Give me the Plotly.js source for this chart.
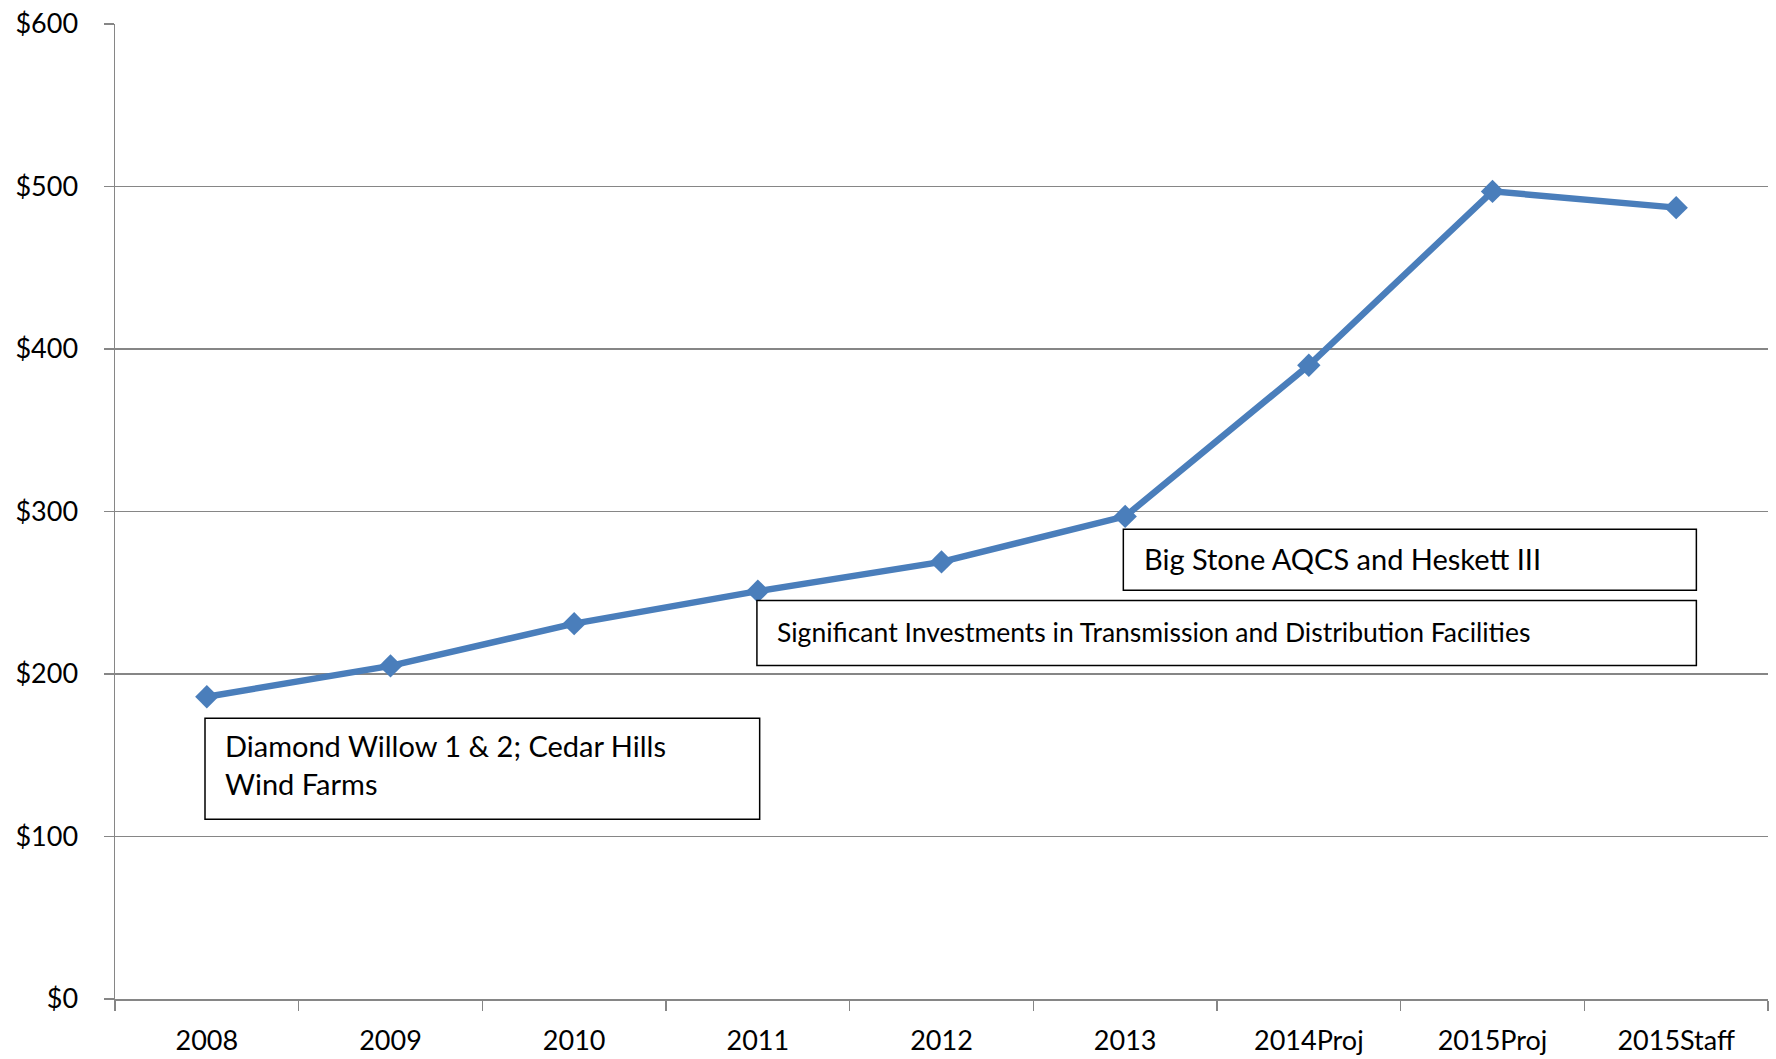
<!DOCTYPE html>
<html>
<head>
<meta charset="utf-8">
<script src="https://cdn.plot.ly/plotly-3.0.1.min.js"></script>
<style>html,body{margin:0;padding:0;background:#fff;}#chart{width:1776px;height:1059px;}</style>
</head>
<body>
<div id="chart"></div>
<script>
const categories = ["2008","2009","2010","2011","2012","2013","2014Proj","2015Proj","2015Staff"];
const values = [186, 205, 231, 251, 269, 297, 390, 497, 487];
const yTickVals = [0, 100, 200, 300, 400, 500, 600];
const yTickText = ["$0","$100","$200","$300","$400","$500","$600"];
const notes = [
  {text: "Diamond Willow 1 &amp; 2; Cedar Hills<br>Wind Farms", x0: -0.01, x1: 3.01, y0: 110.6, y1: 172.7, size: 29, shift: 4},
  {text: "Significant Investments in Transmission and Distribution Facilities", x0: 2.995, x1: 8.11, y0: 205.3, y1: 245.3, size: 26.5, shift: 1},
  {text: "Big Stone AQCS and Heskett III", x0: 4.99, x1: 8.11, y0: 251.6, y1: 289.1, size: 29, shift: 1}
];

const font = "Lato, 'Open Sans', sans-serif";
const gray = "#868686";

const shapes = notes.map(n => ({
  type: "rect", xref: "x", yref: "y", x0: n.x0, x1: n.x1, y0: n.y0, y1: n.y1,
  line: {color: "#000", width: 1.5}, fillcolor: "#fff", layer: "above"
}));
const annotations = notes.map(n => ({
  xref: "x", yref: "y", x: n.x0 + 0.1, y: (n.y0 + n.y1) / 2, yshift: n.shift,
  xanchor: "left", yanchor: "middle", align: "left", showarrow: false,
  text: n.text, font: {family: font, size: n.size, color: "#000"}
}));

const trace = {
  x: categories, y: values, type: "scatter", mode: "lines+markers",
  line: {color: "#4A7EBB", width: 6.5},
  marker: {symbol: "diamond", size: 18, color: "#4A7EBB"},
  cliponaxis: false
};

const layout = {
  width: 1776, height: 1059,
  margin: {l: 115, r: 8, t: 24, b: 60},
  paper_bgcolor: "#fff", plot_bgcolor: "#fff",
  showlegend: false,
  font: {family: font, size: 27, color: "#000"},
  xaxis: {
    type: "category", range: [-0.5, 8.5], showgrid: false,
    showline: true, linecolor: gray, linewidth: 1.5,
    ticks: "outside", tickson: "boundaries", ticklen: 10, tickcolor: gray, tickwidth: 1.5,
    ticklabelstandoff: 17,
    tickfont: {family: font, size: 27, color: "#000"}, fixedrange: true
  },
  yaxis: {
    range: [0, 600], tickvals: yTickVals, ticktext: yTickText,
    showgrid: true, gridcolor: gray, gridwidth: 1.5,
    showline: true, linecolor: gray, linewidth: 1.5, zeroline: false,
    ticks: "outside", ticklen: 10, tickcolor: gray, tickwidth: 1.5,
    ticklabelstandoff: 20,
    tickfont: {family: font, size: 27, color: "#000"}, fixedrange: true
  },
  shapes: shapes,
  annotations: annotations
};

Plotly.newPlot("chart", [trace], layout, {displayModeBar: false, staticPlot: true});
</script>
</body>
</html>
